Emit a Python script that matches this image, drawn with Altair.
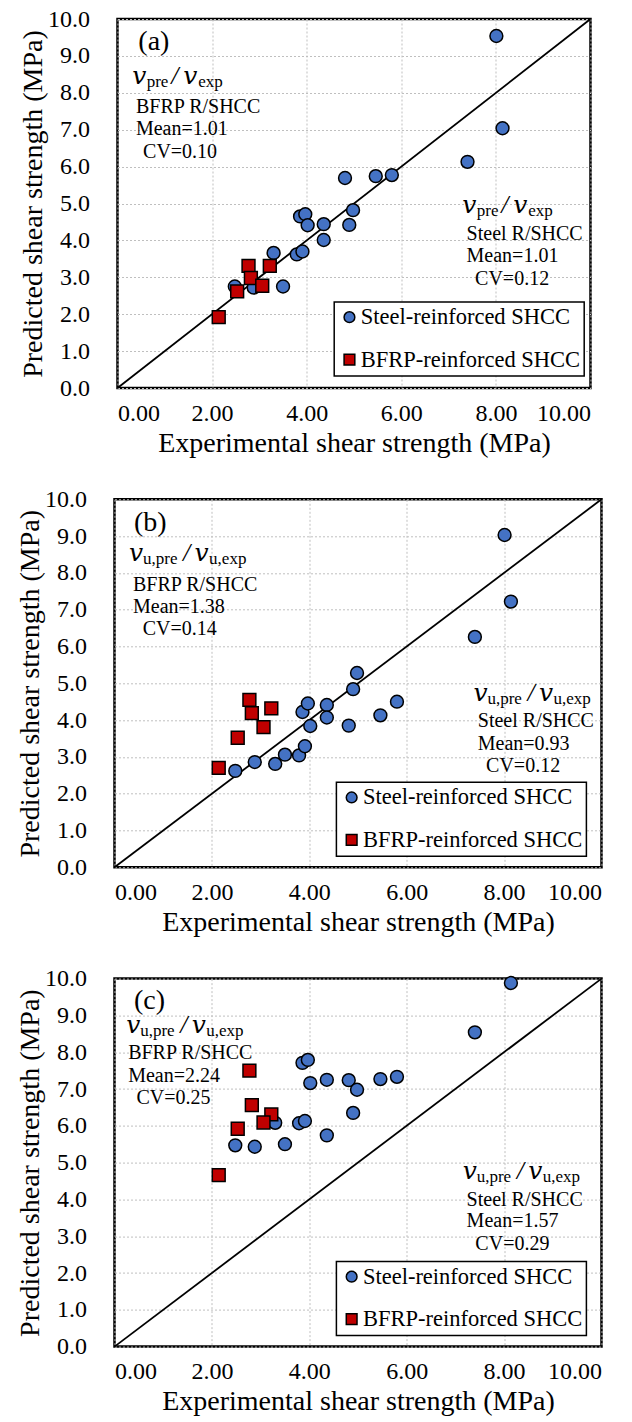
import altair as alt
import pandas as pd

# ---------------- data ----------------
STEEL = "Steel-reinforced SHCC"
BFRP = "BFRP-reinforced SHCC"
series_names = [STEEL, BFRP]
series_colors = ["#4472C4", "#C00000"]
series_shapes = ["circle", "square"]

x_ticks = [0, 2, 4, 6, 8, 10]
y_ticks = [0, 1, 2, 3, 4, 5, 6, 7, 8, 9, 10]
diag_vals = [0, 10]

steel_exp = [8.01, 8.14, 7.40, 4.81, 5.46, 5.80, 4.98, 4.90, 3.86, 3.97,
             4.02, 4.36, 4.36, 3.30, 3.79, 3.91, 2.48, 2.88, 3.50]
steel_pred_a = [9.54, 7.04, 6.13, 5.69, 5.74, 5.77, 4.82, 4.42, 4.65, 4.71,
                4.41, 4.44, 4.01, 3.66, 3.62, 3.70, 2.75, 2.72, 2.75]
steel_pred_b = [9.03, 7.22, 6.26, 3.85, 4.13, 4.50, 5.28, 4.84, 4.22, 4.45,
                3.84, 4.41, 4.07, 2.81, 3.04, 3.29, 2.62, 2.86, 3.06]
steel_pred_c = [None, 9.88, 8.54, 7.24, 7.27, 7.33, 6.98, 6.35, 7.71, 7.79,
                7.16, 7.25, 5.74, 6.08, 6.07, 6.13, 5.47, 5.43, 5.50]

bfrp_exp = [2.77, 3.22, 2.82, 3.06, 2.53, 2.14]
bfrp_pred_a = [3.31, 3.31, 2.98, 2.77, 2.62, 1.92]
bfrp_pred_b = [4.55, 4.32, 4.19, 3.81, 3.52, 2.70]
bfrp_pred_c = [7.50, 6.31, 6.56, 6.09, 5.92, 4.66]

panel_keys = ["a", "b", "c"]
steel_pred = {"a": steel_pred_a, "b": steel_pred_b, "c": steel_pred_c}
bfrp_pred = {"a": bfrp_pred_a, "b": bfrp_pred_b, "c": bfrp_pred_c}

panel_letter = {"a": "(a)", "b": "(b)", "c": "(c)"}
letter_pos = {"a": (0.44, 9.15), "b": (0.40, 9.15), "c": (0.40, 9.18)}

ratio_subs = {"a": ("pre", "exp"), "b": ("u,pre", "u,exp"), "c": ("u,pre", "u,exp")}
ratio_pos = {
    "a": [(0.31, 8.25), (7.29, 4.75)],
    "b": [(0.30, 8.31), (7.37, 4.53)],
    "c": [(0.24, 8.53), (7.15, 4.55)],
}

stat_lines = {
    "a": [("BFRP R/SHCC", 0.39, 7.45), ("Mean=1.01", 0.39, 6.85), ("CV=0.10", 0.54, 6.24),
          ("Steel R/SHCC", 7.38, 4.02), ("Mean=1.01", 7.38, 3.41), ("CV=0.12", 7.56, 2.80)],
    "b": [("BFRP R/SHCC", 0.38, 7.52), ("Mean=1.38", 0.38, 6.92), ("CV=0.14", 0.58, 6.30),
          ("Steel R/SHCC", 7.46, 3.81), ("Mean=0.93", 7.46, 3.20), ("CV=0.12", 7.63, 2.58)],
    "c": [("BFRP R/SHCC", 0.28, 7.82), ("Mean=2.24", 0.28, 7.20), ("CV=0.25", 0.45, 6.60),
          ("Steel R/SHCC", 7.23, 3.83), ("Mean=1.57", 7.23, 3.24), ("CV=0.29", 7.41, 2.63)],
}

x_title = "Experimental shear strength (MPa)"
y_title = "Predicted shear strength (MPa)"

# ---------------- layout / style ----------------
SERIF = "Liberation Serif"
MATH = "DejaVu Serif"
geom = {
    "a": dict(w=473, h=369, lx=216.7, ly=282.9, shift=6.5),
    "b": dict(w=487, h=368, lx=221.9, ly=282.9, shift=1.5),
    "c": dict(w=487, h=368, lx=221.9, ly=282.8, shift=1.5),
}


def enc_xy(g):
    return dict(
        x=alt.X("x:Q", scale=alt.Scale(domain=[0, 10], nice=False),
                axis=alt.Axis(values=x_ticks, format=".2f", title=x_title,
                              labelFont=SERIF, titleFont=SERIF)),
        y=alt.Y("y:Q", scale=alt.Scale(domain=[0, 10], nice=False),
                axis=alt.Axis(values=y_ticks, format=".1f", title=y_title,
                              titlePadding=0, labelFont=SERIF, titleFont=SERIF)),
    )


def panel(k):
    g = geom[k]
    rows = []
    for xv, yv in zip(steel_exp, steel_pred[k]):
        if yv is not None:
            rows.append({"x": xv, "y": yv, "series": STEEL, "ord": 0})
    for xv, yv in zip(bfrp_exp, bfrp_pred[k]):
        rows.append({"x": xv, "y": yv, "series": BFRP, "ord": 1})
    pts = pd.DataFrame(rows)

    diag = pd.DataFrame({"x": diag_vals, "y": diag_vals})
    line = alt.Chart(diag).mark_line(color="black", strokeWidth=1.8).encode(**enc_xy(g))

    leg = alt.Legend(orient="none", legendX=g["lx"], legendY=g["ly"], title=None,
                     labelFont=SERIF)
    points = alt.Chart(pts).mark_point(
        filled=True, size=165, stroke="black", strokeWidth=1.5, opacity=1
    ).encode(
        **enc_xy(g),
        color=alt.Color("series:N", scale=alt.Scale(domain=series_names, range=series_colors), legend=leg),
        shape=alt.Shape("series:N", scale=alt.Scale(domain=series_names, range=series_shapes), legend=leg),
        order=alt.Order("ord:Q"),
    )

    lx, ly = letter_pos[k]
    letter = alt.Chart(pd.DataFrame([{"x": lx, "y": ly, "t": panel_letter[k]}])).mark_text(
        align="left", baseline="alphabetic", font=SERIF, fontSize=28, color="black"
    ).encode(**enc_xy(g), text="t:N")

    stats = alt.Chart(pd.DataFrame([{"t": t, "x": xx, "y": yy} for t, xx, yy in stat_lines[k]])).mark_text(
        align="left", baseline="alphabetic", font=SERIF, fontSize=20, color="black"
    ).encode(**enc_xy(g), text="t:N")

    sub1, sub2 = ratio_subs[k]
    anchors = pd.DataFrame([{"x": xx, "y": yy} for xx, yy in ratio_pos[k]])
    if k == "a":
        offs = dict(v1=0, s1=14.5, sl=39, v2=51, s2=66)
    else:
        offs = dict(v1=0, s1=14, sl=54, v2=65.5, s2=80)
    parts = [
        ("v", offs["v1"], 0, MATH, 25, "italic"),
        (sub1, offs["s1"], 3, SERIF, 17, "normal"),
        ("/", offs["sl"], 0, SERIF, 26, "italic"),
        ("v", offs["v2"], 0, MATH, 25, "italic"),
        (sub2, offs["s2"], 3, SERIF, 17, "normal"),
    ]
    ratio_layers = []
    for txt, dx, dy, fnt, fs, sty in parts:
        ratio_layers.append(
            alt.Chart(anchors).mark_text(
                align="left", baseline="alphabetic", font=fnt, fontSize=fs,
                fontStyle=sty, color="black", dx=dx, dy=dy, text=txt
            ).encode(**enc_xy(g))
        )

    main = alt.layer(line, points, letter, stats, *ratio_layers).properties(
        width=g["w"], height=g["h"]
    ).resolve_legend(color="independent", shape="independent")

    # invisible spacer column that offsets each panel horizontally
    spacer = alt.Chart(pd.DataFrame({"s": [0]})).mark_point(opacity=0).encode(
        x=alt.X("s:Q", axis=None), y=alt.Y("s:Q", axis=None)
    ).properties(width=g["shift"], height=1,
                 view=alt.ViewBackground(stroke="transparent", strokeWidth=0))

    return alt.hconcat(spacer, main, spacing=0).resolve_legend(
        color="independent", shape="independent"
    )


chart = alt.vconcat(*[panel(k) for k in panel_keys], spacing=26.3).resolve_legend(
    color="independent", shape="independent"
).properties(
    padding={"left": 8.5, "top": 5, "right": 0, "bottom": 0}
).configure(
    font=SERIF
).configure_view(
    stroke="black", strokeWidth=2.5
).configure_axis(
    labelFont=SERIF, labelFontSize=24, labelColor="black",
    titleFont=SERIF, titleFontSize=28, titleFontWeight="normal", titleColor="black",
    ticks=False, domain=False, grid=True, gridColor="#BFBFBF", gridDash=[2, 2], gridWidth=1,
).configure_axisX(
    labelPadding=13, titlePadding=4
).configure_axisY(
    labelPadding=28
).configure_legend(
    labelFont=SERIF, labelFontSize=22.5, labelColor="black", labelLimit=500,
    symbolSize=115, symbolStrokeColor="black", symbolStrokeWidth=1.5,
    strokeColor="black", strokeWidth=1.5, fillColor="white",
    padding=4, rowPadding=19.5, labelOffset=0,
)

chart.save("out.html", embed_options={"renderer": "svg", "actions": False})
